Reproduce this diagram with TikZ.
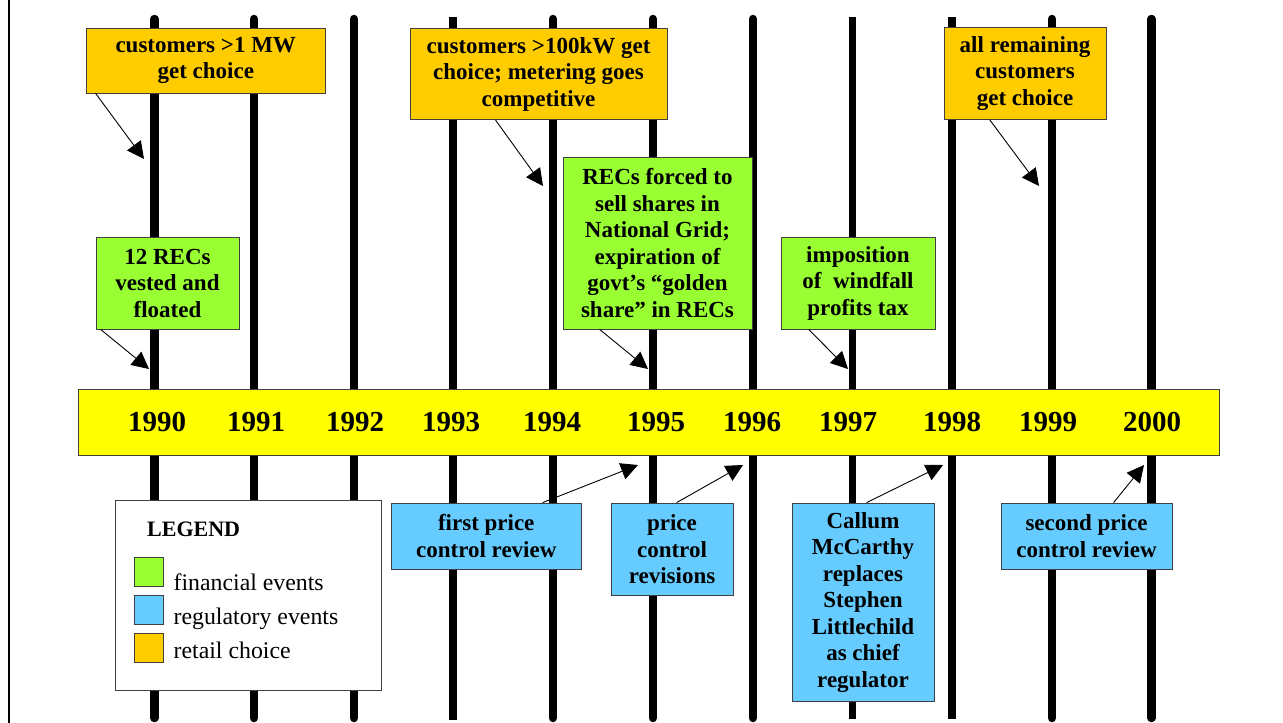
\documentclass[tikz,border=0pt]{standalone}
\usepackage{fontspec}
\setmainfont{Liberation Serif}
\usetikzlibrary{arrows.meta}
\definecolor{retail}{HTML}{FFCC00}
\definecolor{fin}{HTML}{99FF33}
\definecolor{reg}{HTML}{66CCFF}
\definecolor{baryel}{HTML}{FFFF00}
\begin{document}
\begin{tikzpicture}[x=1pt,y=-1pt,
  evbox/.style={draw=black!75, line width=0.8pt, align=center, inner sep=0pt,
    font=\bfseries\fontsize{23}{26.5}\selectfont},
  yearlab/.style={font=\bfseries\fontsize{29}{32}\selectfont},
  vline/.style={line width=8.5pt, line cap=round},
  vflat/.style={line width=8pt, line cap=butt},
  arr/.style={line width=0.9pt, -{Triangle[length=17pt,width=17pt]}},
  swatch/.style={draw=black!75, line width=0.8pt, minimum width=29pt, minimum height=29pt, inner sep=0pt},
  leglab/.style={font=\fontsize{23.8}{27}\selectfont, anchor=base west, inner sep=0pt}]
\useasboundingbox (0,0) rectangle (1283,723);
\fill[white] (0,0) rectangle (1283,723);
% left border
\draw[line width=2pt] (9,0) -- (9,723);
% vertical year lines
\draw[vline] (154.5,19) -- (154.5,718);
\draw[vline] (254,19) -- (254,718);
\draw[vline] (354,19) -- (354,718);
\draw[vflat] (453,17) -- (453,720);
\draw[vline] (553,19) -- (553,718);
\draw[vline] (653,19) -- (653,718);
\draw[vline] (753,19) -- (753,718);
\draw[vflat, line width=7pt] (852,17) -- (852,719);
\draw[vflat] (952,17) -- (952,719);
\draw[vline] (1052,19) -- (1052,718);
\draw[vline] (1151.5,19) -- (1151.5,718);
% year bar
\node[draw=black!75, line width=0.8pt, fill=baryel, minimum width=1141pt, minimum height=66pt, inner sep=0pt] (bar) at (648.5,422) {};
\node[yearlab] (y1990) at (157,422) {1990};
\node[yearlab] (y1991) at (256,422) {1991};
\node[yearlab] (y1992) at (355,422) {1992};
\node[yearlab] (y1993) at (451,422) {1993};
\node[yearlab] (y1994) at (552,422) {1994};
\node[yearlab] (y1995) at (656,422) {1995};
\node[yearlab] (y1996) at (752,422) {1996};
\node[yearlab] (y1997) at (848,422) {1997};
\node[yearlab] (y1998) at (952,422) {1998};
\node[yearlab] (y1999) at (1048,422) {1999};
\node[yearlab] (y2000) at (1152,422) {2000};
% retail choice boxes
\node[evbox, fill=retail, minimum width=238.5pt, minimum height=65pt] (o1) at (205.75,60.5) {customers >1 MW\\get choice};
\node[evbox, fill=retail, minimum width=257pt, minimum height=91.5pt] (o2) at (538.5,74) {customers >100kW get\\choice; metering goes\\competitive};
\node[evbox, fill=retail, minimum width=162pt, minimum height=91.5pt] (o3) at (1025,73.5) {all remaining\\customers\\get choice};
% financial boxes
\node[evbox, fill=fin, minimum width=143pt, minimum height=92pt] (g1) at (167.5,283) {12 RECs\\vested and\\floated};
\node[evbox, fill=fin, minimum width=189pt, minimum height=172pt] (g2) at (657.5,243) {RECs forced to\\sell shares in\\National Grid;\\expiration of\\govt’s “golden\\share” in RECs};
\node[evbox, fill=fin, minimum width=154pt, minimum height=92pt] (g3) at (858,283) {imposition\\of\ \ windfall\\profits tax};
% regulatory boxes
\node[evbox, fill=reg, minimum width=190.5pt, minimum height=66pt] (b1) at (486.25,536) {first price\\control review};
\node[evbox, fill=reg, minimum width=122pt, minimum height=92.5pt] (b2) at (672,549.25) {price\\control\\revisions};
\node[evbox, fill=reg, minimum width=142pt, minimum height=198.5pt] (b3) at (863,602.25) {Callum\\McCarthy\\replaces\\Stephen\\Littlechild\\as chief\\regulator};
\node[evbox, fill=reg, minimum width=171pt, minimum height=66pt] (b4) at (1086.5,536) {second price\\control review};
% legend
\node[draw=black!75, line width=0.8pt, fill=white, minimum width=266pt, minimum height=190pt, inner sep=0pt] (legend) at (248.5,595.5) {};
\node[anchor=base west, inner sep=0pt, font=\bfseries\fontsize{22}{26}\selectfont] (legtitle) at (147,536) {LEGEND};
\node[swatch, fill=fin] (sw1) at (148.5,571.5) {};
\node[swatch, fill=reg] (sw2) at (148.5,610) {};
\node[swatch, fill=retail] (sw3) at (148.5,647.5) {};
\node[leglab] (l1) at (173.5,590) {financial events};
\node[leglab] (l2) at (173.5,624) {regulatory events};
\node[leglab] (l3) at (173.5,658) {retail choice};
% arrow tips
\coordinate (t1) at (144,159);
\coordinate (t2) at (543,186);
\coordinate (t3) at (1039,186);
\coordinate (t4) at (149,369);
\coordinate (t5) at (648,369);
\coordinate (t6) at (848,369);
\coordinate (t7) at (638,465);
\coordinate (t8) at (743,465);
\coordinate (t9) at (943,465);
\coordinate (t10) at (1144,465);
% arrows
\draw[arr] ([xshift=9.5pt]o1.south west) -- (t1);
\draw[arr] ([xshift=86pt]o2.south west) -- (t2);
\draw[arr] ([xshift=46pt]o3.south west) -- (t3);
\draw[arr] ([xshift=5pt]g1.south west) -- (t4);
\draw[arr] ([xshift=37pt]g2.south west) -- (t5);
\draw[arr] ([xshift=28pt]g3.south west) -- (t6);
\draw[arr] ([xshift=152pt]b1.north west) -- (t7);
\draw[arr] ([xshift=66pt]b2.north west) -- (t8);
\draw[arr] ([xshift=75pt]b3.north west) -- (t9);
\draw[arr] ([xshift=113pt]b4.north west) -- (t10);
\end{tikzpicture}
\end{document}
